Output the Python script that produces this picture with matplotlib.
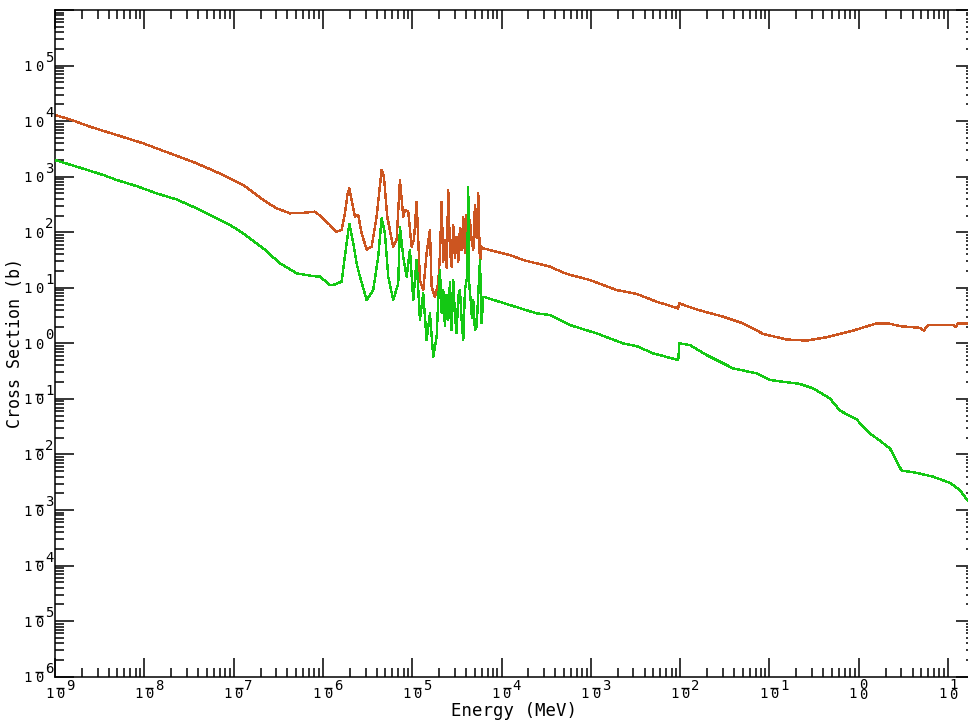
import numpy as np
import matplotlib
matplotlib.use("Agg")
import matplotlib.pyplot as plt
from matplotlib.ticker import FixedLocator, NullFormatter
from matplotlib.transforms import ScaledTranslation, blended_transform_factory

# Neutron cross sections, log10(E / MeV) and log10(sigma / b)
total_log_e = [
    -9.000, -8.832, -8.608, -8.309, -8.012, -7.713, -7.414, -7.116, -6.892, -6.668,
    -6.518, -6.369, -6.220, -6.089, -5.996, -5.921, -5.847, -5.791, -5.754, -5.726,
    -5.705, -5.679, -5.642, -5.605, -5.567, -5.511, -5.455, -5.399, -5.367, -5.343,
    -5.317, -5.280, -5.213, -5.175, -5.138, -5.101, -5.082, -5.045, -5.007, -4.981,
    -4.951, -4.914, -4.877, -4.839, -4.802, -4.783, -4.746,
    -4.709, -4.690, -4.671, -4.653, -4.634, -4.615, -4.597, -4.578, -4.559, -4.541,
    -4.522, -4.503, -4.485, -4.466, -4.447, -4.429, -4.410, -4.391, -4.373, -4.354,
    -4.335, -4.317, -4.298, -4.279, -4.261, -4.242, -4.223, -4.205,
    -3.907, -3.758, -3.459, -3.272,
    -3.012, -2.714, -2.488, -2.264, -2.022, -2.011, -1.816, -1.519, -1.295, -1.071,
    -0.809, -0.585, -0.361, -0.063, 0.198, 0.328, 0.459, 0.683, 0.728, 0.776,
    1.056, 1.086, 1.112, 1.301,
]
total_log_xs = [
    4.11, 4.03, 3.90, 3.75, 3.60, 3.42, 3.24, 3.03, 2.85, 2.58,
    2.43, 2.34, 2.35, 2.37, 2.25, 2.13, 2.01, 2.04, 2.34, 2.67,
    2.79, 2.58, 2.28, 2.31, 1.98, 1.69, 1.74, 2.28, 2.76, 3.12,
    3.00, 2.28, 1.74, 1.86, 2.94, 2.28, 2.40, 2.37, 1.74, 1.86,
    2.55, 1.14, 0.96, 1.62, 2.04, 1.02, 0.84,
    1.08, 1.59, 2.55, 1.47, 1.86, 1.36, 2.76, 1.68, 1.38, 2.13,
    1.54, 1.92, 1.47, 2.07, 1.68, 2.28, 1.62, 2.31, 1.74, 2.22,
    1.86, 1.68, 2.49, 1.90, 2.70, 1.44, 1.74, 1.71,
    1.59, 1.50, 1.38, 1.25,
    1.14, 0.96, 0.89, 0.75, 0.63, 0.72, 0.61, 0.48, 0.36, 0.17,
    0.07, 0.05, 0.11, 0.23, 0.36, 0.36, 0.31, 0.28, 0.23, 0.33,
    0.33, 0.30, 0.36, 0.35,
]

capture_log_e = [
    -9.000, -8.757, -8.459, -8.309, -8.085, -7.862, -7.638, -7.414, -7.041, -6.892,
    -6.668, -6.481, -6.294, -6.108, -6.033, -5.921, -5.884, -5.791, -5.735, -5.705,
    -5.660, -5.623, -5.586, -5.511, -5.437, -5.381, -5.343, -5.306, -5.269, -5.213,
    -5.157, -5.138, -5.101, -5.063, -5.026, -4.989, -4.951, -4.914, -4.877, -4.839,
    -4.802, -4.765, -4.727,
    -4.709, -4.690, -4.671, -4.653, -4.634, -4.615, -4.597, -4.578, -4.559, -4.541,
    -4.522, -4.503, -4.485, -4.466, -4.447, -4.429, -4.410, -4.385, -4.373, -4.366,
    -4.346, -4.332, -4.317, -4.298, -4.279, -4.261, -4.242, -4.223, -4.205,
    -3.907, -3.608, -3.459, -3.235, -2.936, -2.638, -2.488, -2.302, -2.022, -2.009,
    -1.892, -1.705, -1.407, -1.145, -0.996, -0.660, -0.511, -0.324, -0.212, -0.025,
    0.124, 0.217, 0.348, 0.479, 0.646, 0.832, 1.019, 1.131, 1.301,
]
capture_log_xs = [
    3.30, 3.18, 3.03, 2.94, 2.83, 2.70, 2.59, 2.43, 2.13, 1.98,
    1.71, 1.44, 1.26, 1.21, 1.20, 1.05, 1.05, 1.11, 1.80, 2.15,
    1.80, 1.44, 1.20, 0.78, 0.96, 1.56, 2.25, 1.98, 1.20, 0.78,
    1.08, 2.10, 1.56, 1.20, 1.68, 0.78, 1.50, 0.42, 0.90, 0.06,
    0.54, -0.24, 0.12,
    0.78, 1.32, 0.55, 0.96, 0.31, 0.87, 0.42, 1.10, 0.24, 1.14,
    0.49, 0.18, 0.85, 0.96, 0.42, 0.06, 0.96, 1.20, 2.82, 1.14,
    0.78, 0.46, 0.78, 0.24, 0.30, 0.87, 1.50, 0.36, 0.84,
    0.69, 0.54, 0.51, 0.33, 0.18, 0.00, -0.05, -0.18, -0.30, 0.00,
    -0.03, -0.21, -0.45, -0.54, -0.66, -0.73, -0.81, -0.99, -1.21, -1.37,
    -1.62, -1.73, -1.89, -2.29, -2.33, -2.40, -2.51, -2.64, -3.00,
]

x_decades = list(range(-9, 2))
y_decades = list(range(-6, 6))

total_color = "#cc5520"
capture_color = "#14c814"
mono = "DejaVu Sans Mono"

fig = plt.figure(figsize=(9.68, 7.21), dpi=100)
W, H = 968, 721
ax = fig.add_axes([55 / W, (H - 676.7) / H, 920 / W, 666.7 / H])

ax.plot(10 ** np.array(total_log_e), 10 ** np.array(total_log_xs),
        color=total_color, lw=1.0, antialiased=False, zorder=2)
ax.plot(10 ** np.array(capture_log_e), 10 ** np.array(capture_log_xs),
        color=capture_color, lw=1.0, antialiased=False, zorder=3)

ax.set_xscale("log")
ax.set_yscale("log")
ax.set_xlim(1e-9, 20)
ax.set_ylim(1e-6, 1e6)

ax.xaxis.set_major_locator(FixedLocator([10.0 ** k for k in x_decades]))
ax.yaxis.set_major_locator(FixedLocator([10.0 ** k for k in range(-6, 7)]))
ax.xaxis.set_minor_locator(FixedLocator(
    [m * 10.0 ** k for k in range(-9, 2) for m in range(2, 10)]))
ax.yaxis.set_minor_locator(FixedLocator(
    [m * 10.0 ** k for k in range(-6, 6) for m in range(2, 10)]))
ax.xaxis.set_minor_formatter(NullFormatter())
ax.yaxis.set_minor_formatter(NullFormatter())

ax.tick_params(which="both", direction="in", top=True, right=True,
               labelbottom=False, labelleft=False, width=1.1, color="black")
ax.tick_params(which="major", length=13.7)
ax.tick_params(which="minor", length=6.8)
for sp in ax.spines.values():
    sp.set_linewidth(1.1)

fs = 10
xbase = blended_transform_factory(ax.transData, ax.transAxes)
ybase = blended_transform_factory(ax.transAxes, ax.transData)


def put(txt, xy, coords, dx, dy, **kw):
    ax.annotate(txt, xy=xy, xycoords=coords, xytext=(dx, dy),
                textcoords="offset pixels", ha="center", va="center",
                family=mono, fontsize=fs, annotation_clip=False, **kw)


def bar(xy, base, dx, dy):
    # short overline marking a negative exponent
    tr = base + ScaledTranslation(dx / 100, dy / 100, fig.dpi_scale_trans)
    ax.plot([xy[0]], [xy[1]], marker="_", ms=5.5, mew=1.0, color="black",
            transform=tr, clip_on=False)


# bottom axis labels
xcoords = ("data", "axes fraction")
for k in x_decades:
    xy = (10.0 ** k, 0)
    put("1", xy, xcoords, -6, -17.4)
    if k < 0:
        put("0", xy, xcoords, 5, -17.4)
        bar(xy, xbase, 5, -11)
        put(str(-k), xy, xcoords, 15, -9.7)
    else:
        # exponent stacked directly over the zero
        put(f"{k}\n0", xy, xcoords, 5, -13.2, linespacing=0.62)

# left axis labels
ycoords = ("axes fraction", "data")
for k in y_decades:
    xy = (0, 10.0 ** k)
    put("1", xy, ycoords, -27.5, -1.5)
    put("0", xy, ycoords, -16, -1.5)
    if k < 0:
        bar(xy, ybase, -16, 5)
        put(str(-k), xy, ycoords, -5.5, 8)
    else:
        put(str(k), xy, ycoords, -5.5, 8)

fig.text(514 / W, 1 - 710.5 / H, "Energy (MeV)", family=mono, fontsize=12.5,
         ha="center", va="center")
fig.text(15.5 / W, 1 - 343.5 / H, "Cross Section (b)", family=mono, fontsize=12,
         ha="center", va="center", rotation=90)

fig.savefig("out.png", dpi=100)
